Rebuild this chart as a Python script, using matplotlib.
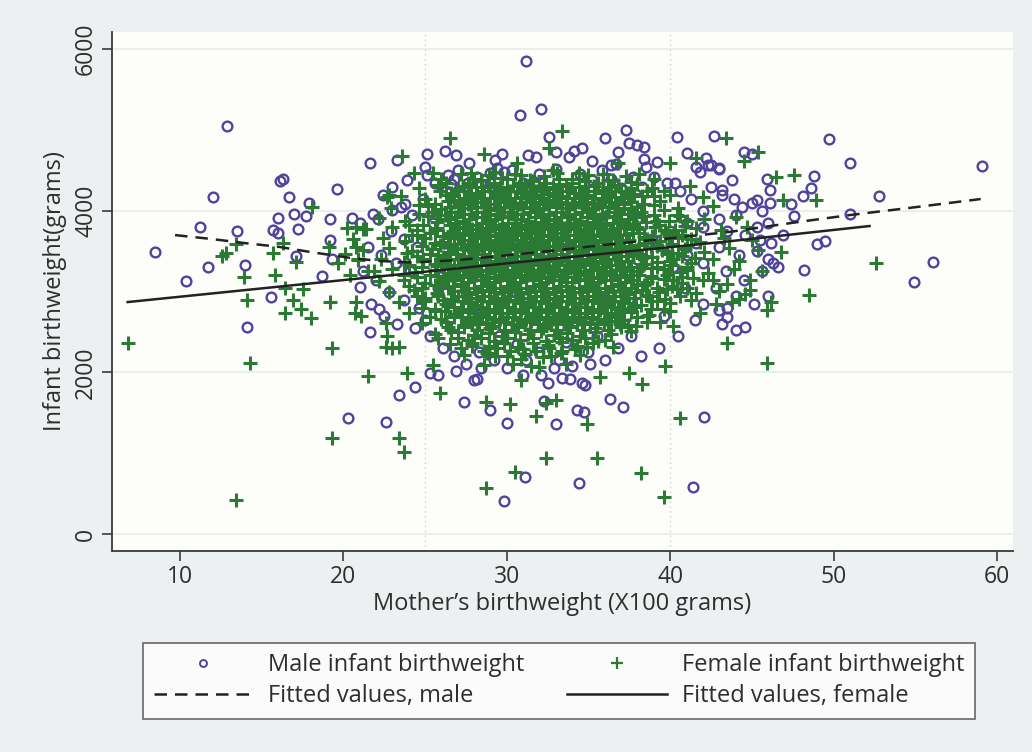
import matplotlib
matplotlib.use("Agg")
from matplotlib import pyplot as plt
from matplotlib.lines import Line2D

# ---- data (x: mother's bw in 100 g, y: infant bw in g) ----
male_pts = [
    # left tail
    (8.5, 3490), (10.4, 3133), (11.2, 3800), (12.0, 4175), (12.9, 5050), (11.7, 3300),
    (14.0, 3330), (14.1, 2562), (15.6, 2929), (13.5, 3750), (16.1, 4369), (16.3, 4393),
    (16.7, 4175), (16.0, 3907), (17.0, 3964), (17.7, 3936), (17.9, 4100), (15.7, 3762),
    (16.0, 3729), (17.2, 3771), (17.1, 3441), (19.6, 4270), (19.2, 3894), (21.6, 4588),
    (18.7, 3197), (19.2, 3639), (19.3, 3400), (21.6, 2496), (20.3, 1432), (22.6, 1390),
    (23.4, 1717), (22.2, 2785), (20.5, 3907), (21.0, 3845), (23.0, 4010), (23.9, 4381),
    (23.8, 4084), (21.8, 3957), (21.0, 3061),
    # bottom
    (24.4, 1823), (25.3, 1989), (25.8, 1968), (26.9, 2021), (27.4, 1637), (28.0, 1906),
    (28.2, 1915), (28.4, 2060), (29.0, 1535), (30.0, 1378), (29.8, 412), (31.1, 709),
    (31.0, 1968), (32.1, 1968), (32.3, 1650), (32.5, 1873), (33.0, 1361), (33.4, 1927),
    (33.9, 1915), (32.9, 2055), (34.4, 627), (34.3, 1535), (34.7, 1514), (34.6, 1873),
    (34.8, 1845), (35.1, 2100), (36.3, 1667), (37.1, 1568), (41.4, 585), (42.1, 1444),
    # right tail
    (42.7, 4926), (49.7, 4885), (51.0, 4588), (59.1, 4554), (52.8, 4183), (51.0, 3957),
    (48.8, 4431), (48.6, 4286), (48.1, 4187), (49.0, 3589), (49.5, 3630), (56.1, 3366),
    (54.9, 3123), (48.2, 3267), (47.6, 3936), (47.4, 4080), (46.9, 3700), (46.1, 4257),
    (46.1, 4093), (45.9, 4394), (44.5, 4731), (45.0, 4703), (42.2, 4650), (42.5, 4567),
    (43.0, 4517), (44.0, 2525), (43.0, 2772), (43.5, 2793), (43.5, 2690), (46.3, 3350),
    (46.0, 3400), (45.5, 3640), (45.3, 4134),
    # top
    (31.2, 5854), (30.8, 5182), (32.1, 5260), (32.6, 4917), (37.3, 5000), (36.0, 4897),
    (40.4, 4917), (37.5, 4835), (38.0, 4814), (38.4, 4786), (36.8, 4731), (34.6, 4773),
    (34.1, 4744), (41.0, 4711), (29.7, 4703), (27.7, 4588), (26.2, 4744), (25.1, 4703),
    (25.1, 4443), (25.0, 4546), (26.4, 4443), (26.6, 4332), (26.8, 4400), (27.6, 4350),
    (29.0, 4464), (29.4, 4526), (29.3, 4629), (29.8, 4484), (31.3, 4690), (31.8, 4670),
    (33.0, 4731), (33.8, 4670), (35.2, 4620), (36.4, 4570), (36.7, 4580), (38.4, 4637),
    (38.5, 4546), (39.2, 4608), (41.6, 4546), (41.8, 4484), (42.3, 4567), (43.0, 4526),
    (40.3, 4340), (43.8, 4381), (43.2, 4257), (26.9, 4690), (23.3, 4630),
    # core, upper right
    (42.5, 4300), (43.2, 4200), (43.9, 4150), (44.4, 4050), (45.0, 4100), (45.6, 4000),
    (44.0, 3950), (43.0, 3900), (42.0, 4000), (41.3, 4150), (40.6, 4250), (39.8, 4350),
    (39.0, 4420), (38.3, 4300), (37.7, 4420), (37.0, 4280), (36.4, 4400), (35.8, 4500),
    (35.2, 4380), (41.0, 3850), (42.0, 3800), (43.5, 3750), (44.6, 3700), (45.3, 3800),
    (46.0, 3850), (40.0, 3750), (38.9, 3650), (41.6, 3600), (43.0, 3550), (44.2, 3450),
    (45.3, 3500), (46.2, 3600), (42.0, 3350), (43.4, 3250), (44.5, 3150), (45.6, 3250),
    (46.6, 3300), (42.8, 3050), (44.0, 2950), (45.1, 2850), (46.0, 2950), (42.0, 2850),
    (41.5, 2650), (43.2, 2600), (44.6, 2560), (40.5, 2450), (39.3, 2300), (38.2, 2200),
    (39.6, 2700), (40.9, 3050), (40.2, 3300), (41.0, 3450),
    # core, left
    (22.4, 4200), (23.0, 4300), (23.5, 4050), (24.2, 3950), (24.9, 4150), (25.6, 4350),
    (26.3, 4250), (22.1, 3900), (22.9, 3750), (23.7, 3650), (24.5, 3550), (21.5, 3550),
    (22.3, 3450), (23.2, 3350), (24.1, 3250), (21.2, 3250), (22.0, 3150), (22.8, 3000),
    (23.7, 2900), (24.6, 2800), (21.7, 2850), (22.5, 2700), (23.3, 2600), (24.4, 2550),
    (25.3, 2450), (26.1, 2300), (25.0, 2650), (25.8, 3050), (26.2, 3600), (25.5, 3850),
    # core, bottom
    (26.8, 2200), (27.5, 2100), (28.3, 2250), (29.2, 2150), (30.0, 2050), (31.2, 2150),
    (32.0, 2250), (33.2, 2150), (34.0, 2080), (35.0, 2250), (36.0, 2150), (36.8, 2300),
    (37.6, 2450), (30.6, 2350), (33.6, 2380), (29.5, 2450), (35.5, 2450),
    # core, top and inside
    (27.0, 4500), (28.2, 4420), (30.3, 4500), (32.0, 4450), (33.0, 4520), (34.5, 4450),
    (29.0, 4350), (31.0, 4350), (28.0, 3500), (30.0, 3000), (32.0, 3700), (34.0, 3300),
    (36.0, 3800), (30.0, 4000), (34.0, 2800), (28.0, 2800), (36.0, 2900), (38.0, 3400),
    (38.0, 3900), (26.0, 3300),
]

female_pts = [
    # left tail
    (6.8, 2360), (13.4, 421), (14.3, 2120), (14.1, 2896), (13.9, 3185), (13.4, 3585),
    (12.6, 3444), (12.8, 3474), (15.8, 3205), (15.7, 3474), (16.3, 3605), (16.4, 3041),
    (16.9, 2896), (16.4, 2731), (17.4, 2785), (18.0, 2670), (17.5, 3027), (17.1, 3370),
    (18.1, 4051), (19.2, 2875), (19.3, 2298), (19.3, 1192), (21.5, 1955), (23.4, 1192),
    (23.7, 1019), (23.9, 1989), (22.7, 4175), (23.6, 4678), (20.2, 3783), (20.8, 3800),
    (21.2, 3780), (20.8, 3556), (20.1, 3465), (19.7, 3350), (20.9, 3400), (19.1, 3556),
    (20.8, 2875), (20.7, 2731), (21.1, 2698), (22.6, 2607), (22.7, 2450), (23.0, 2300),
    (23.4, 2320), (22.6, 2320), (20.4, 3205), (21.9, 3250),
    # bottom
    (25.9, 1741), (25.5, 2095), (28.7, 1637), (28.7, 573), (30.2, 1605), (30.5, 771),
    (30.9, 1906), (31.8, 1460), (32.4, 944), (32.4, 1617), (33.0, 1658), (34.9, 1361),
    (35.5, 944), (35.7, 1947), (37.5, 1989), (38.3, 1856), (38.2, 751), (39.6, 462),
    (39.7, 2083), (40.6, 1432),
    # right tail
    (43.4, 4897), (45.4, 4731), (44.5, 4620), (47.6, 4443), (46.5, 4414), (48.9, 4134),
    (46.9, 4134), (52.6, 3350), (48.5, 2958), (45.9, 2113), (43.5, 2360), (45.9, 2772),
    (46.2, 2875), (44.9, 3020), (44.2, 2905), (43.8, 2875), (46.8, 3494), (42.6, 3144),
    # top
    (33.4, 4991), (32.6, 4773), (26.5, 4897), (28.6, 4703), (24.3, 4464), (25.5, 4472),
    (30.6, 4588), (36.8, 4588), (40.0, 4588), (41.6, 4650), (22.8, 4196),
    # core
    (26.0, 4400), (27.2, 4450), (28.0, 4390), (28.9, 4440), (29.7, 4410), (30.5, 4460),
    (31.4, 4380), (32.3, 4430), (33.1, 4470), (34.0, 4400), (35.0, 4440), (36.2, 4380),
    (37.3, 4430), (38.1, 4460), (39.0, 4400),
    (24.6, 4280), (25.8, 4320), (27.0, 4270), (27.7, 4330), (28.5, 4290), (29.2, 4310),
    (30.0, 4260), (30.8, 4320), (31.6, 4300), (32.4, 4270), (33.2, 4330), (34.0, 4290),
    (34.8, 4310), (35.9, 4260), (36.8, 4320), (37.6, 4280), (39.6, 4250), (41.2, 4310),
    (23.5, 4180), (25.0, 4150), (26.3, 4190), (27.1, 4140), (27.8, 4180), (28.6, 4160),
    (29.4, 4200), (30.1, 4150), (30.9, 4170), (31.7, 4190), (32.5, 4140), (33.3, 4180),
    (34.1, 4160), (34.9, 4200), (35.8, 4150), (36.6, 4170), (37.4, 4190), (39.0, 4180),
    (42.0, 4170),
    (22.9, 4040), (24.6, 4070), (26.0, 4020), (27.0, 4060), (27.8, 4030), (28.6, 4050),
    (29.4, 4010), (30.2, 4060), (31.0, 4040), (31.8, 4020), (32.6, 4070), (33.4, 4030),
    (34.2, 4050), (35.0, 4010), (35.8, 4060), (36.7, 4040), (37.6, 4020), (39.0, 4070),
    (40.5, 4030), (42.6, 4060),
    (22.2, 3910), (23.8, 3880), (25.2, 3930), (26.4, 3900), (27.3, 3870), (28.1, 3920),
    (28.9, 3890), (29.7, 3940), (30.5, 3900), (31.3, 3870), (32.1, 3920), (32.9, 3890),
    (33.7, 3930), (34.5, 3880), (35.3, 3910), (36.1, 3940), (37.0, 3890), (37.9, 3920),
    (39.2, 3880), (40.6, 3930), (42.1, 3900), (44.0, 3920),
    (21.4, 3780), (23.0, 3800), (24.5, 3760), (25.7, 3790), (26.7, 3750), (27.5, 3800),
    (28.3, 3770), (29.1, 3810), (29.9, 3760), (30.7, 3790), (31.5, 3750), (32.3, 3800),
    (33.1, 3770), (33.9, 3810), (34.7, 3760), (35.5, 3790), (36.3, 3750), (37.2, 3800),
    (38.1, 3770), (39.1, 3800), (40.3, 3760), (41.6, 3790), (43.1, 3760), (44.7, 3800),
    (20.6, 3650), (22.4, 3670), (23.8, 3630), (25.0, 3660), (26.1, 3620), (27.0, 3670),
    (27.8, 3640), (28.6, 3680), (29.4, 3630), (30.2, 3660), (31.0, 3620), (31.8, 3670),
    (32.6, 3640), (33.4, 3680), (34.2, 3630), (35.0, 3660), (35.8, 3620), (36.6, 3670),
    (37.5, 3640), (38.4, 3680), (39.4, 3630), (40.5, 3660), (41.8, 3620), (43.3, 3670),
    (45.0, 3640),
    (21.2, 3520), (22.8, 3540), (24.2, 3500), (25.4, 3530), (26.5, 3490), (27.4, 3540),
    (28.2, 3510), (29.0, 3550), (29.8, 3500), (30.6, 3530), (31.4, 3490), (32.2, 3540),
    (33.0, 3510), (33.8, 3550), (34.6, 3500), (35.4, 3530), (36.2, 3490), (37.0, 3540),
    (37.9, 3510), (38.8, 3550), (39.8, 3500), (40.9, 3530), (42.1, 3490), (43.6, 3540),
    (45.4, 3510),
    (20.9, 3390), (22.3, 3410), (23.7, 3370), (24.9, 3400), (26.0, 3360), (27.0, 3410),
    (27.8, 3380), (28.6, 3420), (29.4, 3370), (30.2, 3400), (31.0, 3360), (31.8, 3410),
    (32.6, 3380), (33.4, 3420), (34.2, 3370), (35.0, 3400), (35.8, 3360), (36.6, 3410),
    (37.4, 3380), (38.3, 3420), (39.2, 3370), (40.2, 3400), (41.3, 3360), (42.6, 3410),
    (44.2, 3380),
    (21.5, 3260), (23.0, 3280), (24.4, 3240), (25.6, 3270), (26.6, 3230), (27.5, 3280),
    (28.3, 3250), (29.1, 3290), (29.9, 3240), (30.7, 3270), (31.5, 3230), (32.3, 3280),
    (33.1, 3250), (33.9, 3290), (34.7, 3240), (35.5, 3270), (36.3, 3230), (37.1, 3280),
    (38.0, 3250), (38.9, 3290), (39.9, 3240), (41.0, 3270), (42.3, 3230), (43.9, 3280),
    (45.6, 3250),
    (22.2, 3130), (23.7, 3150), (25.0, 3110), (26.2, 3140), (27.2, 3100), (28.0, 3150),
    (28.8, 3120), (29.6, 3160), (30.4, 3110), (31.2, 3140), (32.0, 3100), (32.8, 3150),
    (33.6, 3120), (34.4, 3160), (35.2, 3110), (36.0, 3140), (36.8, 3100), (37.7, 3150),
    (38.6, 3120), (39.6, 3160), (40.7, 3110), (42.0, 3140), (43.5, 3100), (44.9, 3150),
    (22.8, 3000), (24.3, 3020), (25.7, 2980), (26.8, 3010), (27.7, 2970), (28.5, 3020),
    (29.3, 2990), (30.1, 3030), (30.9, 2980), (31.7, 3010), (32.5, 2970), (33.3, 3020),
    (34.1, 2990), (34.9, 3030), (35.7, 2980), (36.5, 3010), (37.4, 2970), (38.3, 3020),
    (39.3, 2990), (40.4, 3030), (41.6, 2980), (43.0, 3010), (44.6, 2970),
    (23.4, 2870), (25.0, 2890), (26.3, 2850), (27.3, 2880), (28.1, 2840), (28.9, 2890),
    (29.7, 2860), (30.5, 2900), (31.3, 2850), (32.1, 2880), (32.9, 2840), (33.7, 2890),
    (34.5, 2860), (35.3, 2900), (36.1, 2850), (37.0, 2880), (37.9, 2840), (38.9, 2890),
    (40.0, 2860), (41.3, 2900), (42.8, 2850),
    (24.0, 2740), (25.6, 2760), (26.8, 2720), (27.7, 2750), (28.5, 2710), (29.3, 2760),
    (30.1, 2730), (30.9, 2770), (31.7, 2720), (32.5, 2750), (33.3, 2710), (34.1, 2760),
    (34.9, 2730), (35.7, 2770), (36.6, 2720), (37.6, 2750), (38.7, 2710), (40.0, 2760),
    (41.8, 2730),
    (24.8, 2610), (26.3, 2630), (27.4, 2590), (28.3, 2620), (29.1, 2580), (29.9, 2630),
    (30.7, 2600), (31.5, 2640), (32.3, 2590), (33.1, 2620), (33.9, 2580), (34.7, 2630),
    (35.5, 2600), (36.4, 2640), (37.4, 2590), (38.6, 2620), (40.2, 2580),
    (25.6, 2480), (27.0, 2500), (28.0, 2460), (28.9, 2490), (29.7, 2450), (30.5, 2500),
    (31.3, 2470), (32.1, 2510), (32.9, 2460), (33.7, 2490), (34.5, 2450), (35.4, 2500),
    (36.4, 2470), (37.6, 2510),
    (26.5, 2350), (27.9, 2370), (28.9, 2330), (29.8, 2360), (30.7, 2320), (31.6, 2370),
    (32.5, 2340), (33.4, 2380), (34.3, 2330), (35.3, 2360), (36.5, 2320),
    (27.4, 2220), (28.8, 2240), (30.0, 2200), (31.1, 2230), (32.2, 2190), (33.3, 2240),
    (34.5, 2210),
    (28.6, 2090), (30.4, 2110), (32.0, 2070), (33.6, 2100),
]

# extra plusses in the solid green centre of the cloud
female_fill = [
    (27.6, 4340), (28.4, 4380), (29.2, 4350), (30.0, 4390), (30.8, 4340), (31.6, 4370),
    (32.4, 4350), (33.2, 4390), (34.0, 4340), (34.8, 4370), (35.6, 4350), (36.5, 4380),
    (26.6, 4220), (27.4, 4250), (28.2, 4210), (29.0, 4240), (29.8, 4220), (30.6, 4250),
    (31.4, 4210), (32.2, 4240), (33.0, 4220), (33.8, 4250), (34.6, 4210), (35.4, 4240),
    (36.2, 4220), (37.0, 4250), (37.8, 4210), (38.6, 4240),
    (25.6, 4090), (26.4, 4120), (27.2, 4080), (28.0, 4110), (28.8, 4090), (29.6, 4120),
    (30.4, 4080), (31.2, 4110), (32.0, 4090), (32.8, 4120), (33.6, 4080), (34.4, 4110),
    (35.2, 4090), (36.0, 4120), (36.8, 4080), (37.6, 4110), (38.4, 4090),
    (24.6, 3960), (25.4, 3990), (26.2, 3950), (27.0, 3980), (27.8, 3960), (28.6, 3990),
    (29.4, 3950), (30.2, 3980), (31.0, 3960), (31.8, 3990), (32.6, 3950), (33.4, 3980),
    (34.2, 3960), (35.0, 3990), (35.8, 3950), (36.6, 3980), (37.4, 3960), (38.2, 3990),
    (39.0, 3950),
    (24.9, 3830), (25.7, 3860), (26.5, 3820), (27.3, 3850), (28.1, 3830), (28.9, 3860),
    (29.7, 3820), (30.5, 3850), (31.3, 3830), (32.1, 3860), (32.9, 3820), (33.7, 3850),
    (34.5, 3830), (35.3, 3860), (36.1, 3820), (36.9, 3850), (37.7, 3830), (38.5, 3860),
    (39.3, 3820),
    (24.5, 3700), (25.3, 3730), (26.1, 3690), (26.9, 3720), (27.7, 3700), (28.5, 3730),
    (29.3, 3690), (30.1, 3720), (30.9, 3700), (31.7, 3730), (32.5, 3690), (33.3, 3720),
    (34.1, 3700), (34.9, 3730), (35.7, 3690), (36.5, 3720), (37.3, 3700), (38.1, 3730),
    (38.9, 3690), (39.8, 3720), (40.7, 3700),
    (24.8, 3570), (25.6, 3600), (26.4, 3560), (27.2, 3590), (28.0, 3570), (28.8, 3600),
    (29.6, 3560), (30.4, 3590), (31.2, 3570), (32.0, 3600), (32.8, 3560), (33.6, 3590),
    (34.4, 3570), (35.2, 3600), (36.0, 3560), (36.8, 3590), (37.6, 3570), (38.4, 3600),
    (39.2, 3560), (40.1, 3590), (41.0, 3570),
    (24.5, 3440), (25.3, 3470), (26.1, 3430), (26.9, 3460), (27.7, 3440), (28.5, 3470),
    (29.3, 3430), (30.1, 3460), (30.9, 3440), (31.7, 3470), (32.5, 3430), (33.3, 3460),
    (34.1, 3440), (34.9, 3470), (35.7, 3430), (36.5, 3460), (37.3, 3440), (38.1, 3470),
    (38.9, 3430), (39.8, 3460), (40.7, 3440),
    (24.8, 3310), (25.6, 3340), (26.4, 3300), (27.2, 3330), (28.0, 3310), (28.8, 3340),
    (29.6, 3300), (30.4, 3330), (31.2, 3310), (32.0, 3340), (32.8, 3300), (33.6, 3330),
    (34.4, 3310), (35.2, 3340), (36.0, 3300), (36.8, 3330), (37.6, 3310), (38.4, 3340),
    (39.2, 3300), (40.1, 3330), (41.0, 3310),
    (24.5, 3180), (25.3, 3210), (26.1, 3170), (26.9, 3200), (27.7, 3180), (28.5, 3210),
    (29.3, 3170), (30.1, 3200), (30.9, 3180), (31.7, 3210), (32.5, 3170), (33.3, 3200),
    (34.1, 3180), (34.9, 3210), (35.7, 3170), (36.5, 3200), (37.3, 3180), (38.1, 3210),
    (38.9, 3170), (39.8, 3200), (40.7, 3180),
    (24.8, 3050), (25.6, 3080), (26.4, 3040), (27.2, 3070), (28.0, 3050), (28.8, 3080),
    (29.6, 3040), (30.4, 3070), (31.2, 3050), (32.0, 3080), (32.8, 3040), (33.6, 3070),
    (34.4, 3050), (35.2, 3080), (36.0, 3040), (36.8, 3070), (37.6, 3050), (38.4, 3080),
    (39.2, 3040), (40.1, 3070),
    (25.0, 2920), (25.8, 2950), (26.6, 2910), (27.4, 2940), (28.2, 2920), (29.0, 2950),
    (29.8, 2910), (30.6, 2940), (31.4, 2920), (32.2, 2950), (33.0, 2910), (33.8, 2940),
    (34.6, 2920), (35.4, 2950), (36.2, 2910), (37.0, 2940), (37.8, 2920), (38.7, 2950),
    (39.7, 2910),
    (25.6, 2790), (26.4, 2820), (27.2, 2780), (28.0, 2810), (28.8, 2790), (29.6, 2820),
    (30.4, 2780), (31.2, 2810), (32.0, 2790), (32.8, 2820), (33.6, 2780), (34.4, 2810),
    (35.2, 2790), (36.0, 2820), (36.8, 2780), (37.7, 2810), (38.8, 2790),
    (26.0, 2660), (26.8, 2690), (27.6, 2650), (28.4, 2680), (29.2, 2660), (30.0, 2690),
    (30.8, 2650), (31.6, 2680), (32.4, 2660), (33.2, 2690), (34.0, 2650), (34.8, 2680),
    (35.6, 2660), (36.4, 2690), (37.2, 2650), (38.0, 2680),
    (26.6, 2530), (27.4, 2560), (28.2, 2520), (29.0, 2550), (29.8, 2530), (30.6, 2560),
    (31.4, 2520), (32.2, 2550), (33.0, 2530), (33.8, 2560), (34.6, 2520), (35.4, 2550),
    (36.2, 2530), (37.0, 2560),
    (27.6, 2400), (28.4, 2430), (29.2, 2390), (30.0, 2420), (30.8, 2400), (31.6, 2430),
    (32.4, 2390), (33.2, 2420), (34.0, 2400), (34.8, 2430), (35.6, 2390),
    (28.6, 2270), (29.4, 2300), (30.2, 2260), (31.0, 2290), (31.8, 2270), (32.6, 2300),
    (33.4, 2260), (34.2, 2290),
]

# the densest part of the cloud, between the plusses above
female_dense = [
    (27.35, 4310), (28.1, 4290), (28.85, 4310), (29.6, 4290), (30.4, 4310), (31.2, 4290),
    (32.0, 4310), (32.8, 4290), (33.6, 4310), (34.4, 4290), (35.35, 4310), (36.35, 4290),
    (26.7, 4180), (27.45, 4160), (28.2, 4180), (29.0, 4160), (29.75, 4180), (30.5, 4160),
    (31.3, 4180), (32.1, 4160), (32.9, 4180), (33.7, 4160), (34.5, 4180), (35.35, 4160),
    (36.2, 4180), (37.0, 4160),
    (26.5, 4050), (27.4, 4030), (28.2, 4050), (29.0, 4030), (29.8, 4050), (30.6, 4030),
    (31.4, 4050), (32.2, 4030), (33.0, 4050), (33.8, 4030), (34.6, 4050), (35.4, 4030),
    (36.25, 4050), (37.15, 4030),
    (26.85, 3920), (27.7, 3900), (28.5, 3920), (29.3, 3900), (30.1, 3920), (30.9, 3900),
    (31.7, 3920), (32.5, 3900), (33.3, 3920), (34.1, 3900), (34.9, 3920), (35.7, 3900),
    (36.55, 3920), (37.45, 3900),
    (27.1, 3790), (27.9, 3770), (28.7, 3790), (29.5, 3770), (30.3, 3790), (31.1, 3770),
    (31.9, 3790), (32.7, 3770), (33.5, 3790), (34.3, 3770), (35.1, 3790), (35.9, 3770),
    (36.75, 3790), (37.65, 3770),
    (26.55, 3660), (27.4, 3640), (28.2, 3660), (29.0, 3640), (29.8, 3660), (30.6, 3640),
    (31.4, 3660), (32.2, 3640), (33.0, 3660), (33.8, 3640), (34.6, 3660), (35.4, 3640),
    (36.2, 3660), (37.05, 3640),
    (26.95, 3530), (27.8, 3510), (28.6, 3530), (29.4, 3510), (30.2, 3530), (31.0, 3510),
    (31.8, 3530), (32.6, 3510), (33.4, 3530), (34.2, 3510), (35.0, 3530), (35.8, 3510),
    (36.6, 3530), (37.45, 3510),
    (26.5, 3400), (27.4, 3380), (28.2, 3400), (29.0, 3380), (29.8, 3400), (30.6, 3380),
    (31.4, 3400), (32.2, 3380), (33.0, 3400), (33.8, 3380), (34.6, 3400), (35.4, 3380),
    (36.2, 3400), (37.0, 3380),
    (27.05, 3270), (27.9, 3250), (28.7, 3270), (29.5, 3250), (30.3, 3270), (31.1, 3250),
    (31.9, 3270), (32.7, 3250), (33.5, 3270), (34.3, 3250), (35.1, 3270), (35.9, 3250),
    (36.7, 3270), (37.55, 3250),
    (26.7, 3140), (27.6, 3120), (28.4, 3140), (29.2, 3120), (30.0, 3140), (30.8, 3120),
    (31.6, 3140), (32.4, 3120), (33.2, 3140), (34.0, 3120), (34.8, 3140), (35.6, 3120),
    (36.4, 3140), (37.25, 3120),
    (27.25, 3010), (28.1, 2990), (28.9, 3010), (29.7, 2990), (30.5, 3010), (31.3, 2990),
    (32.1, 3010), (32.9, 2990), (33.7, 3010), (34.5, 2990), (35.3, 3010), (36.1, 2990),
    (36.95, 3010), (37.85, 2990),
    (26.8, 2880), (27.7, 2860), (28.5, 2880), (29.3, 2860), (30.1, 2880), (30.9, 2860),
    (31.7, 2880), (32.5, 2860), (33.3, 2880), (34.1, 2860), (34.9, 2880), (35.7, 2860),
    (36.55, 2880), (37.45, 2860),
    (27.25, 2750), (28.1, 2730), (28.9, 2750), (29.7, 2730), (30.5, 2750), (31.3, 2730),
    (32.1, 2750), (32.9, 2730), (33.7, 2750), (34.5, 2730), (35.3, 2750), (36.15, 2730),
    (37.1, 2750),
    (27.85, 2620), (28.7, 2600), (29.5, 2620), (30.3, 2600), (31.1, 2620), (31.9, 2600),
    (32.7, 2620), (33.5, 2600), (34.3, 2620), (35.1, 2600), (35.95, 2620), (36.9, 2600),
    (27.0, 4240), (27.8, 4220), (28.6, 4240), (29.4, 4220), (30.2, 4240), (31.0, 4220),
    (31.8, 4240), (32.6, 4220), (33.4, 4240), (34.2, 4220), (35.0, 4240), (35.8, 4220),
    (36.6, 4240), (37.4, 4220),
    (26.8, 4110), (27.6, 4090), (28.4, 4110), (29.2, 4090), (30.0, 4110), (30.8, 4090),
    (31.6, 4110), (32.4, 4090), (33.2, 4110), (34.0, 4090), (34.8, 4110), (35.6, 4090),
    (36.4, 4110), (37.2, 4090),
    (26.6, 3980), (27.4, 3960), (28.2, 3980), (29.0, 3960), (29.8, 3980), (30.6, 3960),
    (31.4, 3980), (32.2, 3960), (33.0, 3980), (33.8, 3960), (34.6, 3980), (35.4, 3960),
    (36.2, 3980), (37.0, 3960), (37.8, 3980),
    (26.9, 3850), (27.7, 3830), (28.5, 3850), (29.3, 3830), (30.1, 3850), (30.9, 3830),
    (31.7, 3850), (32.5, 3830), (33.3, 3850), (34.1, 3830), (34.9, 3850), (35.7, 3830),
    (36.5, 3850), (37.3, 3830),
    (26.5, 3720), (27.3, 3700), (28.1, 3720), (28.9, 3700), (29.7, 3720), (30.5, 3700),
    (31.3, 3720), (32.1, 3700), (32.9, 3720), (33.7, 3700), (34.5, 3720), (35.3, 3700),
    (36.1, 3720), (36.9, 3700), (37.7, 3720),
    (26.8, 3590), (27.6, 3570), (28.4, 3590), (29.2, 3570), (30.0, 3590), (30.8, 3570),
    (31.6, 3590), (32.4, 3570), (33.2, 3590), (34.0, 3570), (34.8, 3590), (35.6, 3570),
    (36.4, 3590), (37.2, 3570),
    (26.5, 3460), (27.3, 3440), (28.1, 3460), (28.9, 3440), (29.7, 3460), (30.5, 3440),
    (31.3, 3460), (32.1, 3440), (32.9, 3460), (33.7, 3440), (34.5, 3460), (35.3, 3440),
    (36.1, 3460), (36.9, 3440), (37.7, 3460),
    (26.8, 3330), (27.6, 3310), (28.4, 3330), (29.2, 3310), (30.0, 3330), (30.8, 3310),
    (31.6, 3330), (32.4, 3310), (33.2, 3330), (34.0, 3310), (34.8, 3330), (35.6, 3310),
    (36.4, 3330), (37.2, 3310),
    (26.5, 3200), (27.3, 3180), (28.1, 3200), (28.9, 3180), (29.7, 3200), (30.5, 3180),
    (31.3, 3200), (32.1, 3180), (32.9, 3200), (33.7, 3180), (34.5, 3200), (35.3, 3180),
    (36.1, 3200), (36.9, 3180), (37.7, 3200),
    (26.8, 3070), (27.6, 3050), (28.4, 3070), (29.2, 3050), (30.0, 3070), (30.8, 3050),
    (31.6, 3070), (32.4, 3050), (33.2, 3070), (34.0, 3050), (34.8, 3070), (35.6, 3050),
    (36.4, 3070), (37.2, 3050),
    (27.0, 2940), (27.8, 2920), (28.6, 2940), (29.4, 2920), (30.2, 2940), (31.0, 2920),
    (31.8, 2940), (32.6, 2920), (33.4, 2940), (34.2, 2920), (35.0, 2940), (35.8, 2920),
    (36.6, 2940), (37.4, 2920),
    (26.8, 2810), (27.6, 2790), (28.4, 2810), (29.2, 2790), (30.0, 2810), (30.8, 2790),
    (31.6, 2810), (32.4, 2790), (33.2, 2810), (34.0, 2790), (34.8, 2810), (35.6, 2790),
    (36.4, 2810), (37.2, 2790),
    (27.2, 2680), (28.0, 2660), (28.8, 2680), (29.6, 2660), (30.4, 2680), (31.2, 2660),
    (32.0, 2680), (32.8, 2660), (33.6, 2680), (34.4, 2660), (35.2, 2680), (36.0, 2660),
    (36.8, 2680),
]

# ragged rim of the dense part
female_edge = [
    (38.0, 4330), (38.9, 4280), (38.3, 4180), (39.4, 4120), (40.0, 4200), (38.0, 4050),
    (39.6, 4010), (40.4, 3950), (38.4, 3930), (39.9, 3870), (41.0, 3880), (38.0, 3800),
    (39.7, 3760), (40.9, 3810), (38.6, 3650), (39.9, 3690), (41.3, 3650), (38.1, 3580),
    (39.5, 3520), (40.5, 3480), (38.5, 3440), (40.0, 3380), (41.5, 3420), (38.2, 3300),
    (39.6, 3280), (40.6, 3240), (38.8, 3190), (40.2, 3140), (41.4, 3170), (38.0, 3100),
    (39.8, 3030), (41.0, 3040), (38.5, 2960), (39.2, 2880), (40.6, 2940), (38.2, 2840),
    (39.6, 2790), (38.6, 2700), (39.4, 2620), (37.9, 2580),
    (25.9, 4250), (25.2, 4060), (25.9, 3950), (24.0, 3830), (25.6, 3760), (24.2, 3700),
    (25.9, 3580), (23.9, 3480), (25.8, 3450), (24.0, 3330), (25.7, 3320), (23.7, 3200),
    (25.8, 3190), (24.0, 3070), (25.9, 3040), (24.5, 2940), (26.1, 2900), (24.8, 2800),
    (26.2, 2760), (25.3, 2680), (26.4, 2560), (25.8, 2420), (27.0, 2420), (27.2, 2300),
    (27.8, 4470), (29.3, 4480), (30.9, 4440), (32.8, 4500), (34.4, 4470), (35.9, 4450),
    (37.6, 4360), (26.3, 4340),
    (27.9, 2330), (29.3, 2200), (30.9, 2170), (32.7, 2200), (34.9, 2310), (36.0, 2400),
    (31.5, 2080),
]

male_fit_x = [9.7, 12.0, 14.0, 16.0, 18.0, 20.5, 22.2, 24.2, 27.0, 30.0, 33.0, 36.5, 40.0,
              43.7, 47.8, 51.0, 55.0, 59.0]
male_fit_y = [3700, 3650, 3600, 3556, 3490, 3415, 3380, 3360, 3390, 3450, 3510, 3590, 3660,
              3741, 3861, 3948, 4045, 4146]
female_fit_x = [6.8, 15.0, 22.2, 30.0, 37.0, 43.7, 52.2]
female_fit_y = [2871, 3040, 3188, 3350, 3490, 3625, 3812]

PURPLE = "#4f439b"
GREEN = "#2b7a34"
OUTER = "#ecf0f1"
INNER = "#fdfdfa"
TXT = "#2e2e2e"

plt.rcParams['font.family'] = ['Open Sans', 'DejaVu Sans']

fig = plt.figure(figsize=(10.32, 7.52), dpi=100, facecolor=OUTER)
ax = fig.add_axes([0.1085, 0.2673, 0.8731, 0.6901])
ax.set_facecolor(INNER)

for gy in [0, 2000, 4000, 6000]:
    ax.axhline(gy, color="#e9edee", lw=1.3, zorder=0)
for gx in [25, 40]:
    ax.axvline(gx, color="#cfcfcf", lw=1.0, ls=(0, (1, 2.5)), zorder=0)

all_f = female_pts + female_fill + female_dense + female_edge
mx = [p[0] for p in male_pts]
my = [p[1] for p in male_pts]
fx = [p[0] for p in all_f]
fy = [p[1] for p in all_f]

ax.plot(mx, my, ls="none", marker="o", ms=7, mfc="none", mec=PURPLE, mew=1.7, zorder=2)
ax.plot(fx, fy, ls="none", marker="+", ms=10.5, mec=GREEN, mew=2.2, zorder=3)
ax.plot(male_fit_x, male_fit_y, color="#222222", lw=1.8, ls=(0, (5, 3.2)), zorder=4)
ax.plot(female_fit_x, female_fit_y, color="#222222", lw=1.8, zorder=4)

ax.set_xlim(5.84, 60.98)
ax.set_ylim(-210, 6213)
ax.set_xticks([10, 20, 30, 40, 50, 60])
ax.set_yticks([0, 2000, 4000, 6000])
for sp in ["top", "right"]:
    ax.spines[sp].set_visible(False)
for sp in ["left", "bottom"]:
    ax.spines[sp].set_color("#3a3a3a")
    ax.spines[sp].set_linewidth(1.3)
ax.tick_params(axis="both", direction="out", length=7, width=1.2, color="#3a3a3a",
               labelsize=16.5, labelcolor=TXT, pad=3)
for lbl in ax.get_yticklabels():
    lbl.set_rotation(90)
    lbl.set_va("center")

ax.set_xlabel("Mother\u2019s birthweight (X100 grams)", fontsize=17, color=TXT, labelpad=2)
ax.set_ylabel("Infant birthweight(grams)", fontsize=17, color=TXT, labelpad=5)

handles = [
    Line2D([], [], ls="none", marker="o", ms=5, mfc="none", mec=PURPLE, mew=1.4),
    Line2D([], [], color="#222222", lw=1.8, ls=(0, (5, 3.2))),
    Line2D([], [], ls="none", marker="+", ms=8, mec=GREEN, mew=1.6),
    Line2D([], [], color="#222222", lw=1.8),
]
labels = ["Male infant birthweight", "Fitted values, male",
          "Female infant birthweight", "Fitted values, female"]
leg = fig.legend(handles, labels, ncol=2, mode="expand",
                 bbox_to_anchor=(143 / 1032, 1 - 719 / 752, 832 / 1032, 84 / 752),
                 loc="lower left", fontsize=17, handlelength=4.2, handletextpad=0.65,
                 frameon=True, fancybox=False, borderpad=0.45, labelspacing=0.3,
                 columnspacing=1.8, borderaxespad=0)
leg.get_frame().set_edgecolor("#444444")
leg.get_frame().set_linewidth(1.2)
leg.get_frame().set_facecolor("white")
for t in leg.get_texts():
    t.set_color(TXT)

fig.savefig("out.png", dpi=100, facecolor=OUTER)
